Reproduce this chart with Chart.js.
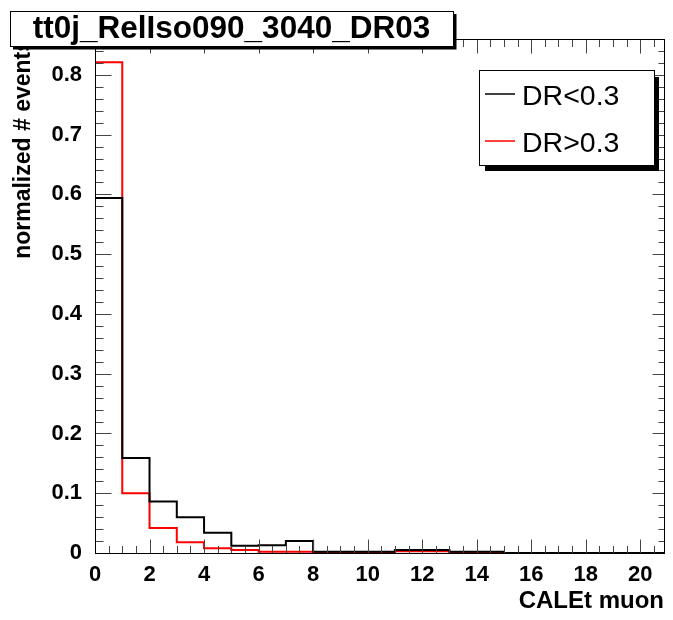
<!DOCTYPE html>
<html>
<head>
<meta charset="utf-8">
<script src="https://cdn.jsdelivr.net/npm/chart.js@4.4.1/dist/chart.umd.min.js"></script>
<style>
  body { margin: 0; background: #fff; }
  canvas { display: block; }
</style>
</head>
<body>
<canvas id="hist" width="673" height="620"></canvas>
<script>
// -------- DATA -------- //

// lower bin edges (bin width 1), CALEt muon
const binEdges = [0, 1, 2, 3, 4, 5, 6, 7, 8, 9, 10, 11, 12, 13, 14, 15, 16, 17, 18, 19, 20];
const binWidth = 1;

// normalized # events per bin
const drBelow = [0.594, 0.159, 0.086, 0.060, 0.034, 0.012, 0.013, 0.020, 0.002, 0.002, 0.002,
  0.005, 0.005, 0.002, 0.002, 0, 0, 0, 0, 0, 0];
const drAbove = [0.821, 0.100, 0.042, 0.018, 0.008, 0.005, 0.002, 0.002, 0.001, 0.001, 0.001,
  0.003, 0.003, 0.001, 0.001, 0, 0, 0, 0, 0, 0];

const seriesNames = ["DR<0.3", "DR>0.3"];
const histTitle = "tt0j_RelIso090_3040_DR03";
const xTitle = "CALEt muon";
const yTitle = "normalized # events";

const xMin = 0, xMax = 20.87;
const yMin = 0, yMax = 0.86;

// turn bin contents into the outline of a step histogram
function histPoints(values) {
  const pts = [{ x: binEdges[0], y: 0 }];
  values.forEach((v, i) => pts.push({ x: binEdges[i], y: v }));
  pts.push({ x: binEdges[binEdges.length - 1] + binWidth, y: 0 });
  return pts;
}

Chart.defaults.font.family = "'Liberation Sans', Arial, sans-serif";
Chart.defaults.color = '#000';

// -------- FRAME, TICKS, TITLE BOX, LEGEND -------- //
const rootFrame = {
  id: 'rootFrame',
  afterDraw(chart) {
    const ctx = chart.ctx;
    const a = chart.chartArea;
    const xs = chart.scales.x, ys = chart.scales.y;
    const L = Math.round(a.left) + 0.5, R = Math.round(a.right) + 0.5;
    const T = Math.round(a.top) + 0.5, B = Math.round(a.bottom) + 0.5;

    ctx.save();
    ctx.lineWidth = 1;

    // tick marks, pointing inward on all four sides
    ctx.strokeStyle = '#444';
    ctx.beginPath();
    for (let v = 0; v <= xMax + 1e-9; v += 0.5) {
      const px = Math.round(xs.getPixelForValue(v)) + 0.5;
      const major = Math.abs(v / 2 - Math.round(v / 2)) < 1e-6;
      const len = major ? 14 : 7.5;
      ctx.moveTo(px, B); ctx.lineTo(px, B - len);
      ctx.moveTo(px, T); ctx.lineTo(px, T + len);
    }
    for (let k = 0; k * 0.02 <= yMax + 1e-9; k++) {
      const py = Math.round(ys.getPixelForValue(k * 0.02)) + 0.5;
      const major = k % 5 === 0;
      ctx.moveTo(L, py); ctx.lineTo(L + (major ? 16 : 8), py);
      ctx.moveTo(R, py); ctx.lineTo(R - (major ? 12 : 6), py);
    }
    ctx.stroke();

    // axis frame
    ctx.strokeStyle = '#000';
    ctx.strokeRect(L, T, R - L, B - T);

    // title box with drop shadow
    const tb = { l: 10, t: 11, r: 453, b: 46 };
    ctx.fillStyle = '#000';
    ctx.fillRect(tb.l + 3, tb.t + 3, tb.r - tb.l + 0.5, tb.b - tb.t + 0.5);
    ctx.fillStyle = '#fff';
    ctx.fillRect(tb.l, tb.t, tb.r - tb.l, tb.b - tb.t);
    ctx.strokeStyle = '#000';
    ctx.strokeRect(tb.l + 0.5, tb.t + 0.5, tb.r - tb.l, tb.b - tb.t);
    ctx.fillStyle = '#000';
    ctx.font = "bold 31.5px 'Liberation Sans', Arial, sans-serif";
    ctx.textAlign = 'center';
    ctx.textBaseline = 'middle';
    ctx.fillText(histTitle, (tb.l + tb.r) / 2, (tb.t + tb.b) / 2 + 1);

    // legend box with drop shadow
    const lb = { l: 479, t: 70, r: 654, b: 165 };
    ctx.fillStyle = '#000';
    ctx.fillRect(lb.l + 6, lb.t + 7, lb.r - lb.l - 1, lb.b - lb.t - 1);
    ctx.fillStyle = '#fff';
    ctx.fillRect(lb.l, lb.t, lb.r - lb.l, lb.b - lb.t);
    ctx.strokeStyle = '#000';
    ctx.strokeRect(lb.l + 0.5, lb.t + 0.5, lb.r - lb.l, lb.b - lb.t);

    ctx.font = "28.5px 'Liberation Sans', Arial, sans-serif";
    ctx.textAlign = 'left';
    chart.data.datasets.forEach((ds, i) => {
      const y = 94 + i * 47;
      ctx.strokeStyle = ds.borderColor;
      ctx.lineWidth = 1.5;
      ctx.beginPath();
      ctx.moveTo(485, y); ctx.lineTo(515, y);
      ctx.stroke();
      ctx.fillStyle = '#000';
      ctx.fillText(ds.label, 522, y + 3);
    });
    ctx.restore();
  }
};

// -------- HISTOGRAM -------- //
const histCtx = document.getElementById('hist');

const histChart = new Chart(histCtx, {
  type: 'line',
  data: {
    datasets: [
      {
        label: seriesNames[0],
        data: histPoints(drBelow),
        borderColor: '#000',
        borderWidth: 2,
        pointRadius: 0,
        stepped: true,
        fill: false
      },
      {
        label: seriesNames[1],
        data: histPoints(drAbove),
        borderColor: '#ff0000',
        borderWidth: 2,
        pointRadius: 0,
        stepped: true,
        fill: false
      }
    ]
  },
  options: {
    responsive: false,
    animation: false,
    events: [],
    layout: {
      padding: { left: 0, top: 39, right: 9, bottom: 0 }
    },
    scales: {
      x: {
        type: 'linear',
        min: xMin,
        max: xMax,
        grid: { display: false },
        border: { display: false },
        ticks: {
          stepSize: 2,
          includeBounds: false,
          maxRotation: 0,
          padding: 1,
          font: { size: 22, weight: 'bold' }
        },
        title: {
          display: true,
          text: xTitle,
          align: 'end',
          padding: { top: 0, bottom: 4 },
          font: { size: 24, weight: 'bold' }
        },
        afterFit: s => { s.height = 67; }
      },
      y: {
        min: yMin,
        max: yMax,
        grid: { display: false },
        border: { display: false },
        ticks: {
          stepSize: 0.1,
          includeBounds: false,
          padding: 5,
          font: { size: 22, weight: 'bold' }
        },
        title: {
          display: true,
          text: yTitle,
          align: 'end',
          padding: { top: 10, bottom: 0 },
          font: { size: 23, weight: 'bold' }
        },
        afterFit: s => { s.width = 95; }
      }
    },
    plugins: {
      legend: { display: false },
      tooltip: { enabled: false }
    }
  },
  plugins: [rootFrame]
});
</script>
</body>
</html>
